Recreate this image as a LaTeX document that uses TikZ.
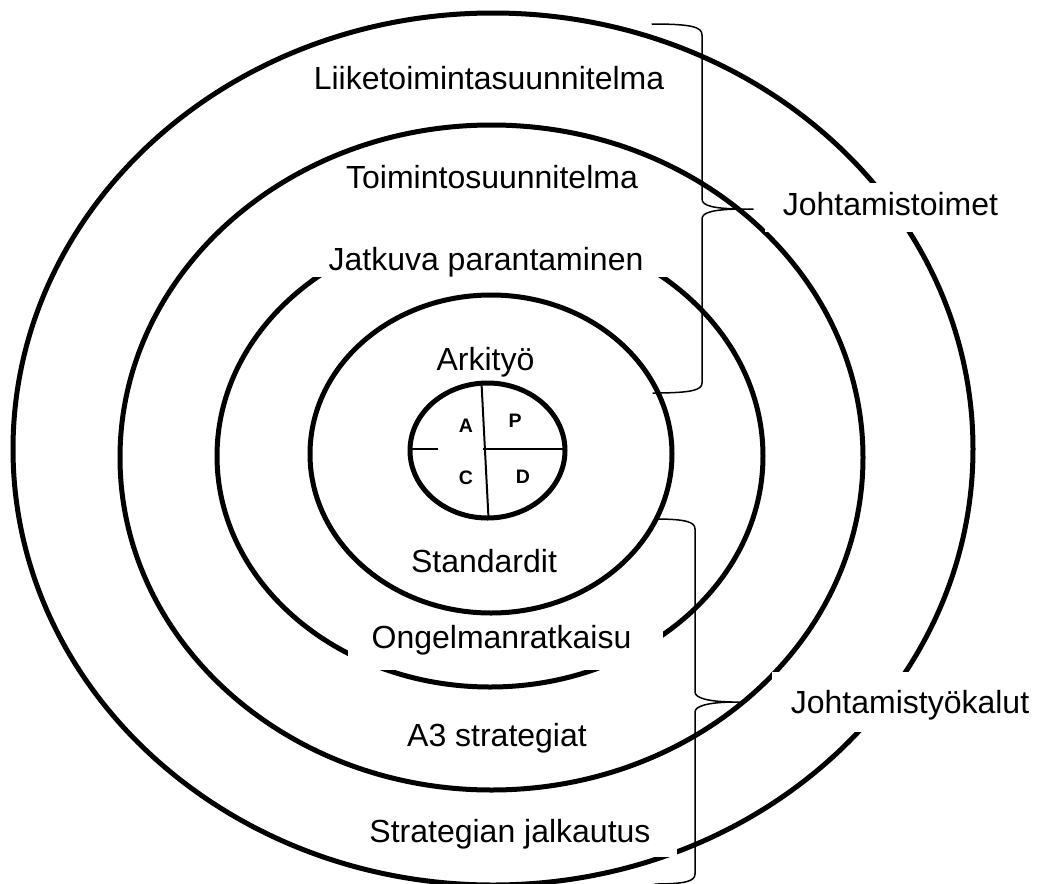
\documentclass[tikz,border=0pt]{standalone}
\usepackage{fontspec}
\setmainfont{Liberation Sans}
\usetikzlibrary{shapes.geometric}
\begin{document}
\begin{tikzpicture}[x=1pt,y=-1pt,
  ring/.style={draw, ellipse, line width=5pt, inner sep=0pt},
  lbl/.style={anchor=base, inner sep=0pt, font=\fontsize{32}{38}\selectfont},
  pdca/.style={anchor=base, inner sep=0pt, font=\fontsize{19.5}{23}\selectfont\bfseries},
  mask/.style={fill=white},
  bracepath/.style={line width=1.5pt, line cap=round, line join=round},
  splitline/.style={line width=2pt}
]
\useasboundingbox (0,0) rectangle (1037,884);
% rings
\node[ring, minimum width=960pt, minimum height=872pt] (e1) at (493,449) {};
\node[ring, minimum width=743pt, minimum height=665pt] (e2) at (491.5,457.5) {};
\node[ring, minimum width=546pt, minimum height=462pt] (e3) at (490,456) {};
\node[ring, minimum width=362pt, minimum height=318pt] (e4) at (491,454) {};
\node[ring, minimum width=155pt, minimum height=135pt] (e5) at (487.5,450.5) {};
% masks behind labels
\fill[mask] (305,212) rectangle (680,277);
\fill[mask] (348,620) rectangle (663,670);
\fill[mask] (343,800) rectangle (677,857);
\fill[mask] (765,183) rectangle (1015,232);
\fill[mask] (772,672) rectangle (1037,732);
% PDCA split lines
\coordinate (vt) at (481.5,383);
\coordinate (vb) at (488.5,518);
\coordinate (hc) at (483,449);
\coordinate (hr) at (565,449);
\coordinate (hl) at (410,449);
\coordinate (hm) at (438,449);
\draw[splitline] (vt) -- (vb);
\draw[splitline] (hc) -- (hr);
\draw[splitline] (hl) -- (hm);
\node[pdca] (pa) at (466,432) {A};
\node[pdca] (pp) at (515,427) {P};
\node[pdca] (pc) at (466,484.5) {C};
\node[pdca] (pd) at (523,483.5) {D};
% labels
\node[lbl] (l1) at (489,89) {Liiketoimintasuunnitelma};
\node[lbl] (l2) at (492,188) {Toimintosuunnitelma};
\node[lbl] (l3) at (486,270) {Jatkuva parantaminen};
\node[lbl] (l4) at (485.5,370) {Arkityö};
\node[lbl] (l5) at (484,572) {Standardit};
\node[lbl] (l6) at (501.5,648) {Ongelmanratkaisu};
\node[lbl] (l7) at (497,746) {A3 strategiat};
\node[lbl] (l8) at (510,842) {Strategian jalkautus};
\node[lbl] (r1) at (890.5,215) {Johtamistoimet};
\node[lbl] (r2) at (910,713) {Johtamistyökalut};
% braces
\coordinate (b1top) at (652,24);
\coordinate (b1tip) at (753,209);
\coordinate (b1bot) at (653,393);
\draw[bracepath] (b1top) .. controls (692,24) and (702,27) .. (702,35)
  -- (702,199) .. controls (702,206) and (714,208.5) .. (740,209) -- (b1tip);
\draw[bracepath] (740,209) .. controls (714,209.5) and (702,212) .. (702,219)
  -- (702,383) .. controls (702,390) and (692,393) .. (b1bot);
\coordinate (b2top) at (655,519);
\coordinate (b2tip) at (746,702);
\coordinate (b2bot) at (655,884);
\draw[bracepath] (b2top) .. controls (686,519) and (695,522) .. (695,529)
  -- (695,692) .. controls (695,698) and (708,701.5) .. (732,702) -- (b2tip);
\draw[bracepath] (732,702) .. controls (708,702.5) and (695,706) .. (695,712)
  -- (695,874) .. controls (695,881) and (686,884) .. (b2bot);
\end{tikzpicture}
\end{document}
